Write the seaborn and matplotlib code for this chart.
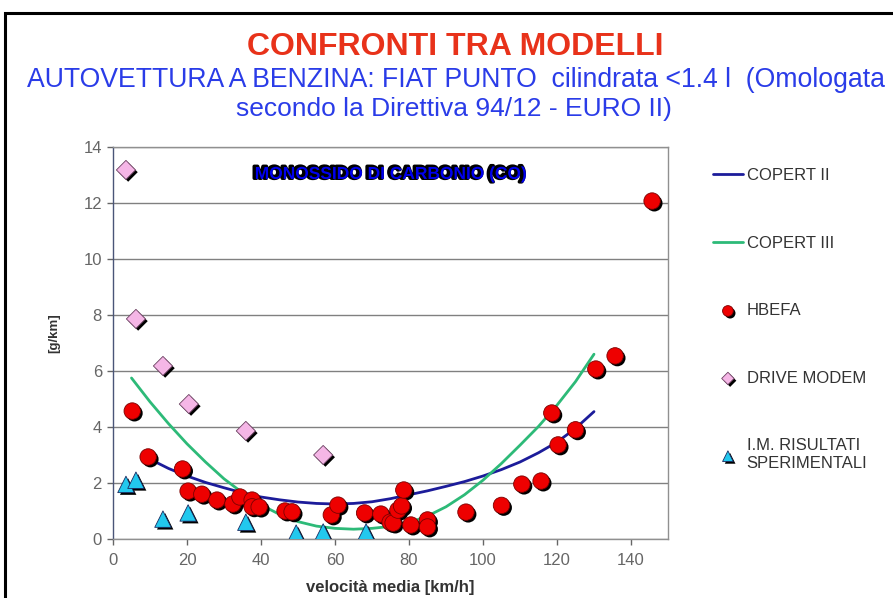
import matplotlib
matplotlib.use("Agg")
import matplotlib.pyplot as plt
import matplotlib.patheffects as pe
from matplotlib.patches import Rectangle
import seaborn as sns

# COPERT II (linea blu)
copert2_v = [10, 15, 20, 25, 30, 35, 40, 45, 50, 55, 60, 65, 70,
             75, 80, 85, 90, 95, 100, 105, 110, 115, 120, 125, 130]
copert2_co = [2.85, 2.52, 2.25, 2.02, 1.83, 1.65, 1.50, 1.40, 1.32, 1.27, 1.25, 1.27, 1.33,
              1.44, 1.58, 1.72, 1.88, 2.05, 2.25, 2.48, 2.75, 3.08, 3.46, 3.95, 4.55]

# COPERT III (linea verde)
copert3_v = [5, 10, 15, 20, 25, 30, 35, 40, 45, 50, 55, 60, 65,
             70, 75, 80, 85, 90, 95, 100, 105, 110, 115, 120, 125, 130]
copert3_co = [5.75, 4.90, 4.12, 3.40, 2.75, 2.15, 1.65, 1.22, 0.88, 0.62, 0.46, 0.38, 0.35,
              0.38, 0.45, 0.58, 0.82, 1.15, 1.58, 2.10, 2.70, 3.35, 4.02, 4.78, 5.62, 6.60]

# HBEFA
hbefa_v = [5.2, 9.5, 18.8, 20.3, 24.0, 28.1, 32.4, 34.3, 37.6, 37.6, 39.5, 46.5, 48.4,
           59.0, 60.8, 68.0, 72.4, 74.9, 75.7, 77.0, 78.0, 78.6, 80.5, 85.0, 85.0,
           95.4, 105.0, 110.5, 115.7, 118.6, 120.3, 125.0, 130.5, 135.7, 145.7]
hbefa_co = [4.57, 2.93, 2.50, 1.71, 1.60, 1.39, 1.25, 1.50, 1.39, 1.15, 1.14, 1.00, 0.97,
            0.86, 1.21, 0.93, 0.89, 0.60, 0.57, 1.03, 1.18, 1.75, 0.50, 0.68, 0.43,
            0.96, 1.20, 1.96, 2.07, 4.50, 3.36, 3.90, 6.07, 6.54, 12.07]

# DRIVE MODEM
drive_v = [3.5, 6.2, 13.5, 20.5, 35.9, 56.8]
drive_co = [13.18, 7.86, 6.18, 4.82, 3.86, 3.00]

# I.M. risultati sperimentali
im_v = [3.5, 6.2, 13.5, 20.3, 35.9, 49.5, 56.8, 68.4]
im_co = [1.95, 2.10, 0.71, 0.93, 0.60, 0.21, 0.25, 0.25]

x_ticks = [0, 20, 40, 60, 80, 100, 120, 140]
y_ticks = [0, 2, 4, 6, 8, 10, 12, 14]

sns.set_theme(style="white")
plt.rcParams['font.family'] = ['Liberation Sans', 'DejaVu Sans']

W, H = 893, 598
fig = plt.figure(figsize=(W / 100, H / 100), dpi=100)
fig.patch.set_facecolor('white')
ax = fig.add_axes([113 / W, 1 - 539 / H, 555 / W, 392 / H])

# cornice esterna
fig.patches.append(Rectangle((5 / W, -0.1), 1.2, 1.1 - 13 / H,
                             transform=fig.transFigure, fill=False,
                             edgecolor='black', linewidth=2.2))

shadow = [pe.SimplePatchShadow(offset=(1.6, -1.6), shadow_rgbFace='black', alpha=1), pe.Normal()]

sns.lineplot(x=copert2_v, y=copert2_co, ax=ax, color='#1c1c9a', linewidth=2, label='COPERT II')
sns.lineplot(x=copert3_v, y=copert3_co, ax=ax, color='#2dba78', linewidth=2, label='COPERT III')
sns.scatterplot(x=hbefa_v, y=hbefa_co, ax=ax, color='#ee0000', edgecolor='#7a0000',
                linewidth=0.6, s=140, marker='o', label='HBEFA', zorder=4)
sns.scatterplot(x=drive_v, y=drive_co, ax=ax, color='#f5b6e6', edgecolor='#6a4060',
                linewidth=0.6, s=95, marker='D', label='DRIVE MODEM', zorder=4)
sns.scatterplot(x=im_v, y=im_co, ax=ax, color='#22c8ee', edgecolor='#1a2a60',
                linewidth=0.6, s=140, marker='^', label='I.M. RISULTATI\nSPERIMENTALI', zorder=4)
for coll in ax.collections:
    coll.set_path_effects(shadow)

ax.set_xlim(0, 150)
ax.set_ylim(0, 14)
ax.set_xticks(x_ticks)
ax.set_yticks(y_ticks)
ax.yaxis.grid(True, color='#808080', linewidth=1)
ax.set_axisbelow(True)
ax.tick_params(axis='both', colors='#666666', labelsize=12, length=4, direction='out',
               bottom=True, left=True, width=1)
ax.tick_params(axis='x', pad=6)
ax.tick_params(axis='y', pad=4)
for side in ['top', 'right', 'bottom']:
    ax.spines[side].set_color('#909090')
ax.spines['left'].set_color('#4a5578')
for sp in ax.spines.values():
    sp.set_linewidth(1)

ax.set_xlabel('velocità media [km/h]', fontsize=12, fontweight='bold', color='#333333', labelpad=9)
ax.set_ylabel('[g/km]', fontsize=9.5, fontweight='bold', color='#333333')
ax.yaxis.set_label_coords(-0.0955, 0.525)

ax.text(0.5, 0.93, 'MONOSSIDO DI CARBONIO (CO)', transform=ax.transAxes,
        ha='center', va='center', fontsize=12.5, fontweight='bold', color='#0000ee',
        path_effects=[pe.Stroke(linewidth=2.5, foreground='black', offset=(-1.2, 0.5)), pe.Normal()])

fig.text(455 / W, 1 - 47 / H, 'CONFRONTI TRA MODELLI', ha='center', va='center',
         fontsize=23, fontweight='bold', color='#e8321a')
fig.text(456 / W, 1 - 80 / H, 'AUTOVETTURA A BENZINA: FIAT PUNTO  cilindrata <1.4 l  (Omologata',
         ha='center', va='center', fontsize=19.2, color='#2a3ce8')
fig.text(454 / W, 1 - 109 / H, 'secondo la Direttiva 94/12 - EURO II)',
         ha='center', va='center', fontsize=19, color='#2a3ce8')

leg = ax.legend(loc='upper left', bbox_to_anchor=(705 / W, 1 - 160 / H),
                bbox_transform=fig.transFigure, frameon=False, fontsize=12,
                labelspacing=3.15, handlelength=1.75, handletextpad=0.25,
                borderpad=0, markerscale=0.65)
for t in leg.get_texts():
    t.set_color('#333333')

fig.savefig('out.png', dpi=100, facecolor='white')
